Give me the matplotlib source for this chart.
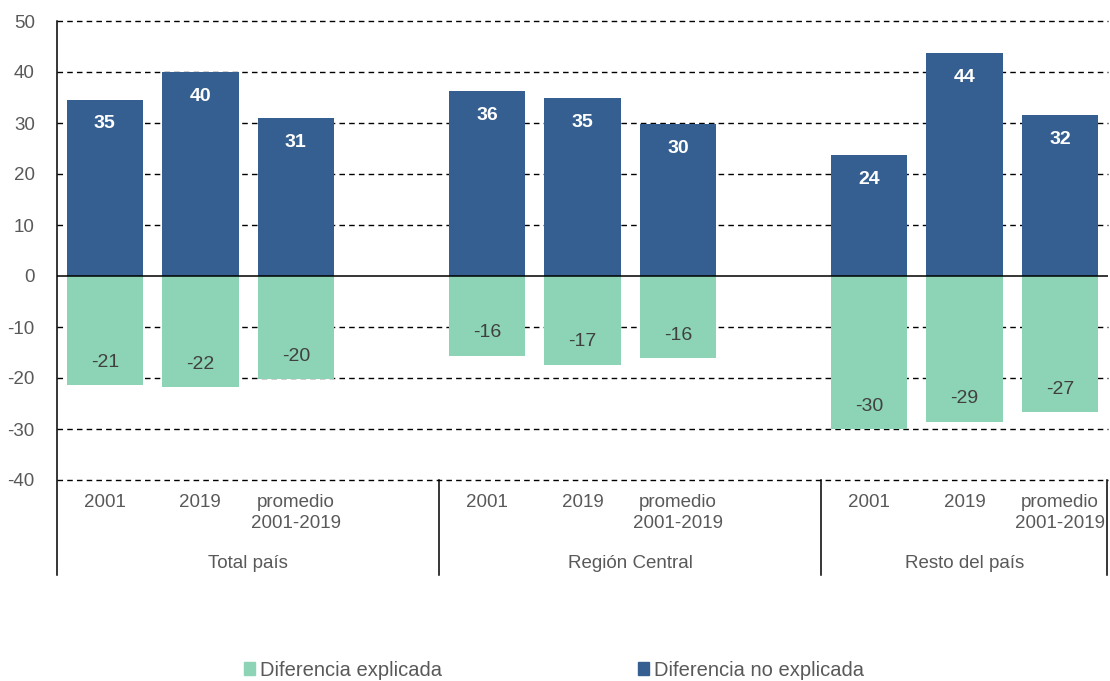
import matplotlib.pyplot as plt
import matplotlib.transforms as mtransforms
from matplotlib.patches import Patch

plt.rcParams['font.family'] = ['Liberation Sans', 'DejaVu Sans']
plt.rcParams['axes.unicode_minus'] = False

groups = ['Total país', 'Región Central', 'Resto del país']
periods = ['2001', '2019', 'promedio\n2001-2019']
no_explicada = [34.6, 40.0, 31.0, 36.3, 34.9, 29.8, 23.7, 43.7, 31.6]
explicada = [-21.4, -21.8, -20.2, -15.6, -17.4, -16.1, -30.0, -28.6, -26.7]

blue = '#365f91'
green = '#8dd4b6'
gray = '#595959'

fig = plt.figure(figsize=(11.1, 6.81), dpi=100)
ax = fig.add_axes([57 / 1110, 1 - 480 / 681, 1051 / 1110, 459 / 681])

# 4 slots per group (last one empty), the last group has no trailing slot
xs = [g * 4 + i for g in range(len(groups)) for i in range(len(periods))]
ax.bar(xs, no_explicada, width=0.8, color=blue, zorder=3)
ax.bar(xs, explicada, width=0.8, color=green, zorder=3)

for x, v in zip(xs, no_explicada):
    ax.annotate(f'{v:.0f}', (x, v), xytext=(0, -17.5), textcoords='offset points',
                ha='center', va='center', color='white', fontsize=14,
                fontweight='bold', zorder=4)
for x, v in zip(xs, explicada):
    ax.annotate(f'{v:.0f}', (x, v), xytext=(0, 16.5), textcoords='offset points',
                ha='center', va='center', color='#404040', fontsize=14, zorder=4)

ax.set_xlim(-0.5, 10.5)
ax.set_ylim(-40, 50)
ax.set_yticks(range(-40, 51, 10))
for y in range(-40, 51, 10):
    if y == 0:
        ax.axhline(0, color='black', lw=1.1, zorder=4)
    else:
        ax.axhline(y, color='black', lw=1.0, ls=(0, (4, 3)), zorder=1, clip_on=False)

ax.set_xticks(xs)
ax.set_xticklabels(periods * len(groups))
for lab in ax.get_xticklabels():
    lab.set_linespacing(1.3)
ax.tick_params(axis='x', length=0, pad=10, labelsize=13.5, labelcolor=gray)
ax.tick_params(axis='y', length=0, pad=16, labelsize=13.5, labelcolor=gray)

for s in ['top', 'right', 'bottom', 'left']:
    ax.spines[s].set_visible(False)

# group separators and group labels below the axis
trans = mtransforms.blended_transform_factory(ax.transData, ax.transAxes)
for xb in [-0.5, 3.5, 7.5, 10.49]:
    top = 1.0 if xb == -0.5 else 0.0
    ax.plot([xb, xb], [top, -0.207], transform=trans, color='black', lw=1.1,
            clip_on=False, zorder=5)
for xc, name in zip([1.5, 5.5, 9.0], groups):
    ax.text(xc, -0.181, name, transform=trans, ha='center', va='center',
            fontsize=13.5, color=gray)

handles = [Patch(color=green, label='Diferencia explicada'),
           Patch(color=blue, label='Diferencia no explicada')]
fig.legend(handles=handles, loc='center', bbox_to_anchor=(0.499, 0.016), ncol=2,
           frameon=False, fontsize=14.5, labelcolor=gray, handlelength=0.55,
           handleheight=0.55, handletextpad=0.25, columnspacing=9.7)

fig.savefig('out.png', dpi=100)
